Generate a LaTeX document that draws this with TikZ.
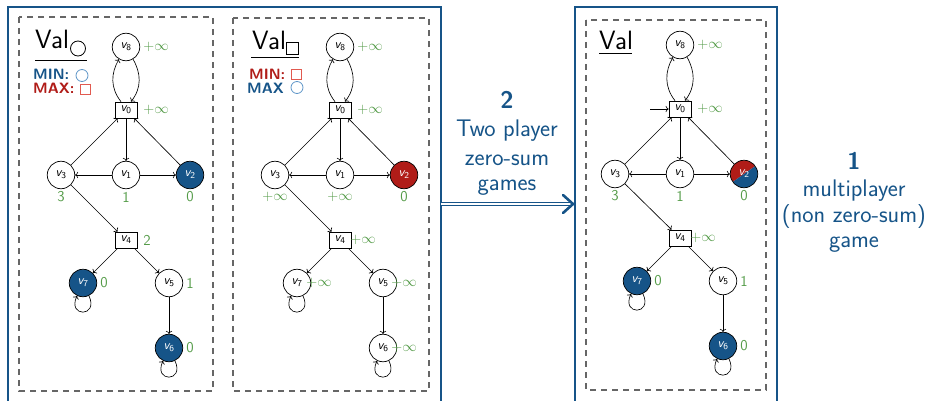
\documentclass[tikz,border=0pt]{standalone}
\usepackage{fontspec}
\renewcommand{\familydefault}{\sfdefault}
\usetikzlibrary{arrows.meta,calc}
\definecolor{myblue}{RGB}{22,84,136}
\definecolor{myred}{RGB}{176,28,24}
\definecolor{mygreen}{RGB}{84,155,72}
\definecolor{lightblue}{RGB}{95,150,200}
\definecolor{lightred}{RGB}{225,90,80}
\newcommand\vn[1]{{\slshape v}\textsubscript{#1}}
\newcommand\gedges[1]{%
  \draw[conn] ([xshift=-5pt]#10.north) .. controls +(-11,14) and +(-8,-14) .. (#18.-120);
  \draw[conn] (#18.-60) .. controls +(8,-14) and +(11,14) .. ([xshift=5pt]#10.north);
  \draw[conn] (#10) -- (#11);
  \draw[conn] (#13) -- (#10);
  \draw[conn] (#12) -- (#10);
  \draw[conn] (#11) -- (#13);
  \draw[conn] (#11) -- (#12);
  \draw[conn] (#13) -- (#14);
  \draw[conn] (#14) -- (#17);
  \draw[conn] (#14) -- (#15);
  \draw[conn] (#15) -- (#16);
  \draw[conn] (#17.-65) .. controls +(-65:24pt) and +(-115:24pt) .. (#17.-115);
  \draw[conn] (#16.-65) .. controls +(-65:24pt) and +(-115:24pt) .. (#16.-115);
}
\begin{document}
\begin{tikzpicture}[x=1pt,y=1pt,
  st/.style={circle,draw,line width=0.7pt,minimum size=27.5pt,inner sep=0pt,font=\fontsize{13}{15}\selectfont},
  sq/.style={rectangle,draw,line width=0.7pt,minimum width=22pt,minimum height=16pt,inner sep=0pt,font=\fontsize{13}{15}\selectfont},
  minst/.style={st,fill=myblue,text=white},
  maxst/.style={st,fill=myred,text=white},
  lab/.style={text=mygreen,font=\fontsize{15}{17}\selectfont,inner sep=0pt},
  conn/.style={->,line width=0.65pt},
  dashbox/.style={draw=black!60,line width=1.1pt,dash pattern=on 6pt off 5pt},
  bframe/.style={draw=myblue,line width=2pt},
  bigtxt/.style={text=myblue,font=\fontsize{24}{28}\selectfont,inner sep=0pt,anchor=base},
  sidetxt/.style={text=myblue,font=\fontsize{24}{28}\selectfont,inner sep=0pt,anchor=base},
  valtxt/.style={anchor=base west,inner sep=0pt,font=\fontsize{26.5}{30}\selectfont},
  roletxt/.style={anchor=base west,inner sep=0pt,font=\bfseries\fontsize{15}{17}\selectfont},
]
\useasboundingbox (0,0) rectangle (932,400);

% frames
\draw[bframe] (7.5,393) rectangle (441,-10);
\draw[bframe] (575,392.5) rectangle (777,-10);
\draw[dashbox] (19,383) rectangle (213,9);
\draw[dashbox] (233,382) rectangle (429,9);
\draw[dashbox] (586,380) rectangle (766,10);

% ---------- panel 1 ----------
\node[valtxt] (t1) at (35,352) {Val};
\draw[line width=0.8pt] (78,351.5) circle (7.5);
\draw[line width=0.9pt] (35,340) -- (87,340);
\node[roletxt,text=myblue] (min1) at (33,320) {MIN:};
\draw[lightblue,line width=0.8pt] (82,324.5) circle (6);
\node[roletxt,text=myred] (max1) at (33,306) {MAX:};
\draw[lightred,line width=0.8pt] (80,306) rectangle (90,316);

\begin{scope}[shift={(126,290)}]
  \node[st] (a8) at (0,63) {\vn8};
  \node[sq] (a0) at (0,0) {\vn0};
  \node[st] (a3) at (-65,-65) {\vn3};
  \node[st] (a1) at (0,-65) {\vn1};
  \node[minst] (a2) at (64,-65) {\vn2};
  \node[sq] (a4) at (0,-130) {\vn4};
  \node[minst] (a7) at (-43,-173) {\vn7};
  \node[st] (a5) at (43,-173) {\vn5};
  \node[minst] (a6) at (43,-238) {\vn6};
  \node[lab] (la8) at (30,63) {$+\infty$};
  \node[lab] (la0) at (30,0) {$+\infty$};
  \node[lab] (la3) at (-65,-87) {3};
  \node[lab] (la1) at (0,-87) {1};
  \node[lab] (la2) at (64,-87) {0};
  \node[lab] (la4) at (21,-130) {2};
  \node[lab] (la7) at (-22,-173) {0};
  \node[lab] (la5) at (64,-173) {1};
  \node[lab] (la6) at (64,-238) {0};
\end{scope}
\gedges{a}

% ---------- panel 2 ----------
\node[valtxt] (t2) at (252,350) {Val};
\draw[line width=0.8pt] (286,345.5) rectangle (298,357.5);
\draw[line width=0.9pt] (251,343) -- (299,343);
\node[roletxt,text=myred] (min2) at (249,320.5) {MIN:};
\draw[lightred,line width=0.8pt] (291,320.5) rectangle (301,330.5);
\node[roletxt,text=myblue] (max2) at (247,306.5) {MAX};
\draw[lightblue,line width=0.8pt] (297,312.5) circle (6);

\begin{scope}[shift={(340,290)}]
  \node[st] (b8) at (0,63) {\vn8};
  \node[sq] (b0) at (0,0) {\vn0};
  \node[st] (b3) at (-65,-65) {\vn3};
  \node[st] (b1) at (0,-65) {\vn1};
  \node[maxst] (b2) at (64,-65) {\vn2};
  \node[sq] (b4) at (0,-130) {\vn4};
  \node[st] (b7) at (-43,-173) {\vn7};
  \node[st] (b5) at (43,-173) {\vn5};
  \node[st] (b6) at (43,-238) {\vn6};
  \node[lab] (lb8) at (30,63) {$+\infty$};
  \node[lab] (lb0) at (30,0) {$+\infty$};
  \node[lab] (lb3) at (-65,-87) {$+\infty$};
  \node[lab] (lb1) at (0,-87) {$+\infty$};
  \node[lab] (lb2) at (64,-87) {0};
  \node[lab] (lb4) at (23,-130) {$+\infty$};
  \node[lab] (lb7) at (-21,-173) {$+\infty$};
  \node[lab] (lb5) at (64,-173) {$+\infty$};
  \node[lab] (lb6) at (64,-238) {$+\infty$};
\end{scope}
\gedges{b}

% ---------- panel 3 ----------
\node[valtxt] (t3) at (599,350) {Val};
\draw[line width=0.9pt] (599,346.5) -- (632,346.5);

\begin{scope}[shift={(680,291)}]
  \node[st] (c8) at (0,64) {\vn8};
  \node[sq] (c0) at (0,0) {\vn0};
  \node[st] (c3) at (-65,-65) {\vn3};
  \node[st] (c1) at (0,-65) {\vn1};
  \node[st,text=white,path picture={
      \fill[myred] (path picture bounding box.center) ++(-17,-12) -- ++(34,24) -- ++(0,10) -- ++(-34,0) -- cycle;
      \fill[myblue] (path picture bounding box.center) ++(-17,-12) -- ++(34,24) -- ++(0,-36) -- ++(-34,0) -- cycle;}]
      (c2) at (64,-65) {\vn2};
  \node[sq] (c4) at (0,-129) {\vn4};
  \node[minst] (c7) at (-43,-172) {\vn7};
  \node[st] (c5) at (43,-172) {\vn5};
  \node[minst] (c6) at (43,-237) {\vn6};
  \node[lab] (lc8) at (30,64) {$+\infty$};
  \node[lab] (lc0) at (30,0) {$+\infty$};
  \node[lab] (lc3) at (-65,-87) {3};
  \node[lab] (lc1) at (0,-87) {1};
  \node[lab] (lc2) at (64,-87) {0};
  \node[lab] (lc4) at (23,-129) {$+\infty$};
  \node[lab] (lc7) at (-22,-172) {0};
  \node[lab] (lc5) at (64,-172) {1};
  \node[lab] (lc6) at (64,-237) {0};
  \coordinate (init) at (-30,0);
\end{scope}
\gedges{c}
\draw[conn] (init) -- (c0);

% ---------- middle arrow and texts ----------
\node[bigtxt,font=\bfseries\fontsize{24}{28}\selectfont] (m1) at (507,292) {2};
\node[bigtxt] (m2) at (507,264) {Two player};
\node[bigtxt] (m3) at (507,235) {zero-sum};
\node[bigtxt] (m4) at (507,210) {games};
\coordinate (arrS) at (441,196);
\coordinate (arrE) at (572,196);
\draw[myblue,line width=1.1pt,double distance=2.2pt] (arrS) -- (arrE);
\draw[myblue,line width=2.6pt,line cap=round,line join=round] ($(arrE)+(-9,9)$) -- ($(arrE)+(1,0)$) -- ($(arrE)+(-9,-9)$);

\node[sidetxt,font=\bfseries\fontsize{24}{28}\selectfont] (r1) at (854,231) {1};
\node[sidetxt] (r2) at (854,204) {multiplayer};
\node[sidetxt] (r3) at (854,178) {(non zero-sum)};
\node[sidetxt] (r4) at (854,153) {game};
\end{tikzpicture}
\end{document}
